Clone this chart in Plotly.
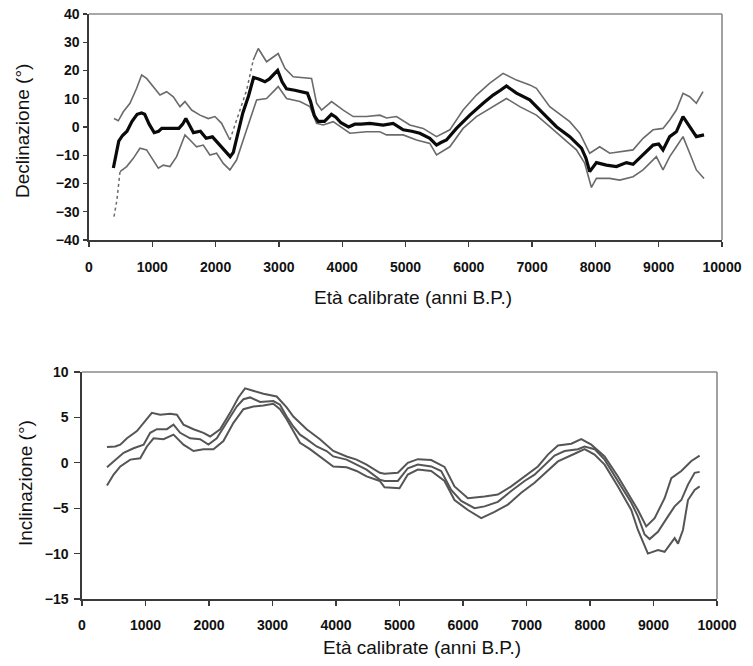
import plotly.graph_objects as go

# ---------------- data: Declinazione ----------------
dec_mean_x = [385, 420, 470, 530, 600, 680, 760, 830, 880, 950, 1030, 1100, 1150, 1300, 1420, 1480, 1530, 1590, 1650, 1760, 1850, 1950, 2030, 2100, 2170, 2230, 2280, 2350, 2430, 2520, 2600, 2680, 2780, 2850, 2980, 3050, 3120, 3250, 3450, 3500, 3560, 3620, 3720, 3830, 3900, 3980, 4100, 4200, 4300, 4437, 4647, 4805, 4963, 5100, 5226, 5384, 5490, 5560, 5647, 5805, 6016, 6226, 6384, 6500, 6595, 6753, 6963, 7174, 7384, 7595, 7780, 7850, 7910, 8016, 8174, 8332, 8490, 8595, 8753, 8911, 9000, 9068, 9174, 9279, 9384, 9490, 9595, 9716]
dec_mean_y = [-14.5, -10, -5, -3, -1.5, 2, 4.5, 5, 4.5, 1, -2, -1.5, -0.5, -0.5, -0.5, 1, 3, 0.5, -2, -1.5, -4, -3.5, -5.5, -7.5, -9, -10.5, -9, -2, 5, 11, 17.5, 17, 16, 17, 20, 16, 13.5, 13, 12, 9, 4, 2, 2, 4.5, 3.5, 1.5, 0, 1, 1, 1.3, 0.7, 1.3, -1, -1.5, -2.2, -4, -6.4, -5.5, -4.6, -0.5, 4.2, 8.4, 11.3, 13, 14.5, 12, 9.6, 4.8, 0.1, -3.4, -7.5, -11, -15.8, -12.6, -13.5, -14, -12.6, -13.2, -9.9, -6.4, -6, -8.1, -3.4, -1.7, 3.7, 0.1, -3.4, -2.8]

dec_upper_x = [395, 463, 542, 647, 753, 832, 910, 1016, 1121, 1226, 1332, 1437, 1516, 1621, 1753, 1884, 1990, 2095, 2226, 2384, 2490, 2595, 2674, 2805, 2989, 3095, 3226, 3516, 3595, 3674, 3832, 4016, 4174, 4384, 4595, 4700, 4858, 5068, 5279, 5490, 5700, 5910, 6121, 6332, 6542, 6753, 6963, 7068, 7279, 7595, 7753, 7910, 8068, 8226, 8384, 8595, 8753, 8911, 9068, 9174, 9279, 9384, 9490, 9595, 9700]
dec_upper_y = [3, 2.2, 5.4, 8.4, 13.7, 18.4, 17.2, 14.3, 11.3, 12.5, 10.7, 7.2, 9, 6, 4.2, 3, 3.7, 1.3, -4.6, 6, 13, 23.7, 27.8, 23.1, 26, 20.8, 17.8, 17.2, 8.4, 6, 9, 6, 3.7, 3.7, 4.2, 3.2, 3.7, 0.7, -0.5, -3.4, -1, 6, 11.3, 15.5, 19, 16.6, 14.9, 13.7, 7.2, 1.9, -2.2, -9.3, -7, -9.3, -8.7, -8.1, -4, -1, -0.5, 2.5, 6, 11.9, 10.7, 8.4, 12.5]

dec_lower_x = [395, 440, 490, 595, 700, 805, 910, 1016, 1095, 1174, 1279, 1384, 1516, 1595, 1700, 1805, 1910, 2016, 2121, 2226, 2331, 2490, 2648, 2805, 2989, 3121, 3332, 3490, 3595, 3700, 3858, 4121, 4384, 4595, 4700, 4963, 5174, 5384, 5490, 5700, 5910, 6121, 6332, 6595, 6805, 7068, 7279, 7490, 7700, 7832, 7937, 8016, 8226, 8384, 8595, 8753, 8963, 9068, 9174, 9279, 9384, 9490, 9595, 9716]
dec_lower_y = [-31.7, -26, -15.8, -14, -11.1, -7.5, -8.1, -11.7, -14.6, -13.5, -14, -10.5, -2.8, -4.6, -7, -6.4, -9.9, -9.3, -12.9, -15.2, -11.7, -1, 9.6, 10.1, 14.3, 10.1, 9, 7.2, 1.3, 0.7, 1.9, -2.2, -1.7, -1.7, -2.8, -2.8, -4.6, -5.8, -9.9, -7, -0.5, 3.7, 6.6, 10.1, 7.2, 4.2, 0.1, -4, -8.1, -12.9, -21.4, -18.2, -18.2, -18.8, -17.6, -15.2, -10.5, -15.2, -10.5, -7, -3.4, -9.3, -15.2, -18.2]

# ---------------- data: Inclinazione ----------------
inc_mid_x = [393, 524, 655, 812, 970, 1074, 1179, 1336, 1441, 1546, 1703, 1860, 1991, 2122, 2280, 2437, 2542, 2647, 2804, 3013, 3118, 3223, 3328, 3433, 3538, 3695, 3852, 3957, 4167, 4324, 4481, 4690, 4764, 4974, 5131, 5289, 5499, 5656, 5814, 5972, 6182, 6339, 6549, 6759, 6969, 7127, 7285, 7442, 7600, 7810, 7915, 8072, 8230, 8440, 8650, 8755, 8860, 8939, 9070, 9228, 9333, 9438, 9543, 9648, 9727]
inc_mid_y = [-0.5, 0.35, 1.1, 1.6, 2, 3.3, 3.7, 3.7, 4.2, 3.3, 2.7, 2.6, 2, 2.7, 4.4, 6.2, 7, 7.2, 6.7, 6.8, 6.4, 5.1, 4, 3.1, 2.6, 1.8, 1.3, 0.7, 0.35, -0.2, -0.75, -1.85, -2, -2, -0.6, -0.2, -0.4, -0.9, -3, -4.2, -5, -4.8, -4.3, -3.1, -2, -1.3, -0.2, 0.8, 1.3, 1.5, 1.8, 1.5, 0.35, -2, -4.4, -5.9, -7.9, -8.4, -7.6, -5.9, -4.8, -4.1, -2.4, -1.1, -1]

inc_upper_x = [393, 524, 603, 708, 865, 1022, 1100, 1231, 1389, 1494, 1598, 1756, 1913, 2018, 2175, 2332, 2463, 2568, 2699, 2856, 3066, 3223, 3328, 3538, 3747, 3957, 4167, 4324, 4481, 4690, 4764, 4974, 5131, 5289, 5499, 5709, 5866, 6077, 6339, 6549, 6759, 6969, 7180, 7337, 7495, 7705, 7862, 8020, 8230, 8440, 8650, 8755, 8886, 9018, 9175, 9281, 9438, 9596, 9727]
inc_upper_y = [1.75, 1.8, 2, 2.7, 3.5, 4.8, 5.5, 5.3, 5.4, 5.3, 4.2, 3.7, 3.3, 2.9, 3.7, 5.5, 7.2, 8.2, 7.9, 7.6, 7.3, 6.1, 5.1, 3.7, 2.6, 1.3, 0.7, 0.35, -0.2, -1.1, -1.2, -1.1, 0, 0.4, 0.3, -0.45, -2.6, -3.9, -3.7, -3.5, -2.6, -1.5, -0.4, 0.9, 1.9, 2.1, 2.6, 2, 0.7, -1.5, -3.9, -5.2, -7, -6.1, -3.9, -1.7, -0.9, 0.2, 0.8]

inc_lower_x = [393, 498, 603, 760, 917, 1022, 1127, 1284, 1441, 1598, 1756, 1913, 2070, 2227, 2385, 2542, 2699, 2856, 3013, 3118, 3223, 3328, 3433, 3590, 3747, 3957, 4167, 4324, 4481, 4690, 4764, 5000, 5131, 5289, 5499, 5709, 5866, 6077, 6287, 6497, 6707, 6917, 7127, 7337, 7495, 7757, 7915, 8072, 8230, 8440, 8650, 8755, 8912, 9070, 9175, 9333, 9386, 9464, 9543, 9648, 9727]
inc_lower_y = [-2.5, -1.3, -0.4, 0.35, 0.5, 1.8, 2.7, 2.6, 3.1, 2, 1.3, 1.5, 1.5, 2.4, 4.4, 5.9, 6.2, 6.3, 6.5, 5.9, 4.8, 3.5, 2.2, 1.5, 0.7, -0.4, -0.5, -0.9, -1.5, -2, -2.7, -2.8, -1.3, -0.75, -0.9, -2, -4.1, -5.2, -6.1, -5.4, -4.6, -3.3, -2.2, -0.9, 0.15, 1, 1.5, 0.9, -0.2, -2.6, -5.2, -7.4, -10, -9.6, -9.8, -8.3, -8.9, -7.4, -4.1, -3, -2.6]

x_ticks = [0, 1000, 2000, 3000, 4000, 5000, 6000, 7000, 8000, 9000, 10000]
x_ticktext = ["0", "1000", "2000", "3000", "4000", "5000", "6000", "7000", "8000", "9000", "10000"]
dec_ticks = [-40, -30, -20, -10, 0, 10, 20, 30, 40]
inc_ticks = [-15, -10, -5, 0, 5, 10]

x_title = "Età calibrate (anni B.P.)"
dec_title = "Declinazione (°)"
inc_title = "Inclinazione (°)"

# ---------------- figure ----------------
W, H = 753, 666
BAND = "#6a6a6a"
INC = "#555555"
TICKFONT = dict(family="Liberation Sans, Arial", size=14, color="#111", weight="bold")
TITLEFONT = dict(family="Liberation Sans, Arial", size=19, color="#111")

fig = go.Figure()

fig.add_trace(go.Scatter(x=dec_lower_x[:3], y=dec_lower_y[:3], mode="lines",
                         line=dict(color=BAND, width=1.5, dash="dot"), xaxis="x", yaxis="y"))
fig.add_trace(go.Scatter(x=dec_lower_x[2:], y=dec_lower_y[2:], mode="lines",
                         line=dict(color=BAND, width=1.6), xaxis="x", yaxis="y"))
fig.add_trace(go.Scatter(x=dec_upper_x[:19], y=dec_upper_y[:19], mode="lines",
                         line=dict(color=BAND, width=1.6), xaxis="x", yaxis="y"))
fig.add_trace(go.Scatter(x=dec_upper_x[18:22], y=dec_upper_y[18:22], mode="lines",
                         line=dict(color=BAND, width=1.5, dash="dot"), xaxis="x", yaxis="y"))
fig.add_trace(go.Scatter(x=dec_upper_x[21:], y=dec_upper_y[21:], mode="lines",
                         line=dict(color=BAND, width=1.6), xaxis="x", yaxis="y"))
fig.add_trace(go.Scatter(x=dec_mean_x, y=dec_mean_y, mode="lines",
                         line=dict(color="#0a0a0a", width=3.2), xaxis="x", yaxis="y"))

fig.add_trace(go.Scatter(x=inc_upper_x, y=inc_upper_y, mode="lines",
                         line=dict(color=INC, width=2), xaxis="x2", yaxis="y2"))
fig.add_trace(go.Scatter(x=inc_mid_x, y=inc_mid_y, mode="lines",
                         line=dict(color=INC, width=2), xaxis="x2", yaxis="y2"))
fig.add_trace(go.Scatter(x=inc_lower_x, y=inc_lower_y, mode="lines",
                         line=dict(color=INC, width=2), xaxis="x2", yaxis="y2"))


def px(x):
    return x / W


def py(y):
    return 1 - y / H


axis_common = dict(showgrid=False, zeroline=False, showline=True, linecolor="#3a3a3a", linewidth=1.6,
                   ticks="outside", tickcolor="#3a3a3a", tickwidth=1.4, tickfont=TICKFONT,
                   automargin=False, fixedrange=True, ticklabeloverflow="allow")

fig.update_layout(
    width=W, height=H,
    margin=dict(l=0, r=0, t=0, b=0),
    paper_bgcolor="white", plot_bgcolor="white",
    showlegend=False,
    hovermode=False,
    xaxis=dict(axis_common, domain=[px(89), px(722)], range=[0, 10000], tickvals=x_ticks,
               ticktext=x_ticktext, ticklen=5, ticklabelstandoff=9, anchor="y"),
    yaxis=dict(axis_common, domain=[py(240), py(14)], range=[-40, 40], tickvals=dec_ticks,
               ticklen=4, ticklabelstandoff=1, anchor="x"),
    xaxis2=dict(axis_common, domain=[px(82), px(717)], range=[0, 10000], tickvals=x_ticks,
                ticktext=x_ticktext, ticklen=5, ticklabelstandoff=8, anchor="y2"),
    yaxis2=dict(axis_common, domain=[py(599), py(372)], range=[-15, 10], tickvals=inc_ticks,
                ticklen=6, ticklabelstandoff=3, anchor="x2"),
    shapes=[
        dict(type="line", xref="x domain", yref="y domain", x0=0, x1=1, y0=1, y1=1,
             line=dict(color="#8a8a8a", width=1.6), layer="below"),
        dict(type="line", xref="x domain", yref="y domain", x0=1, x1=1, y0=0, y1=1,
             line=dict(color="#8a8a8a", width=1.6), layer="below"),
        dict(type="line", xref="x2 domain", yref="y2 domain", x0=0, x1=1, y0=1, y1=1,
             line=dict(color="#8a8a8a", width=1.6), layer="below"),
        dict(type="line", xref="x2 domain", yref="y2 domain", x0=1, x1=1, y0=0, y1=1,
             line=dict(color="#8a8a8a", width=1.6), layer="below"),
    ],
    annotations=[
        dict(text=x_title, xref="paper", yref="paper", x=px(413), y=py(297), showarrow=False,
             font=TITLEFONT, xanchor="center", yanchor="middle"),
        dict(text=x_title, xref="paper", yref="paper", x=px(422), y=py(647), showarrow=False,
             font=TITLEFONT, xanchor="center", yanchor="middle"),
        dict(text=dec_title, xref="paper", yref="paper", x=px(22), y=py(131), showarrow=False,
             font=TITLEFONT, textangle=-90, xanchor="center", yanchor="middle"),
        dict(text=inc_title, xref="paper", yref="paper", x=px(25), y=py(483), showarrow=False,
             font=TITLEFONT, textangle=-90, xanchor="center", yanchor="middle"),
    ],
)

fig.write_html("out.html", config={"displayModeBar": False, "staticPlot": True},
               post_script="document.body.style.margin='0';document.body.style.overflow='hidden';")
